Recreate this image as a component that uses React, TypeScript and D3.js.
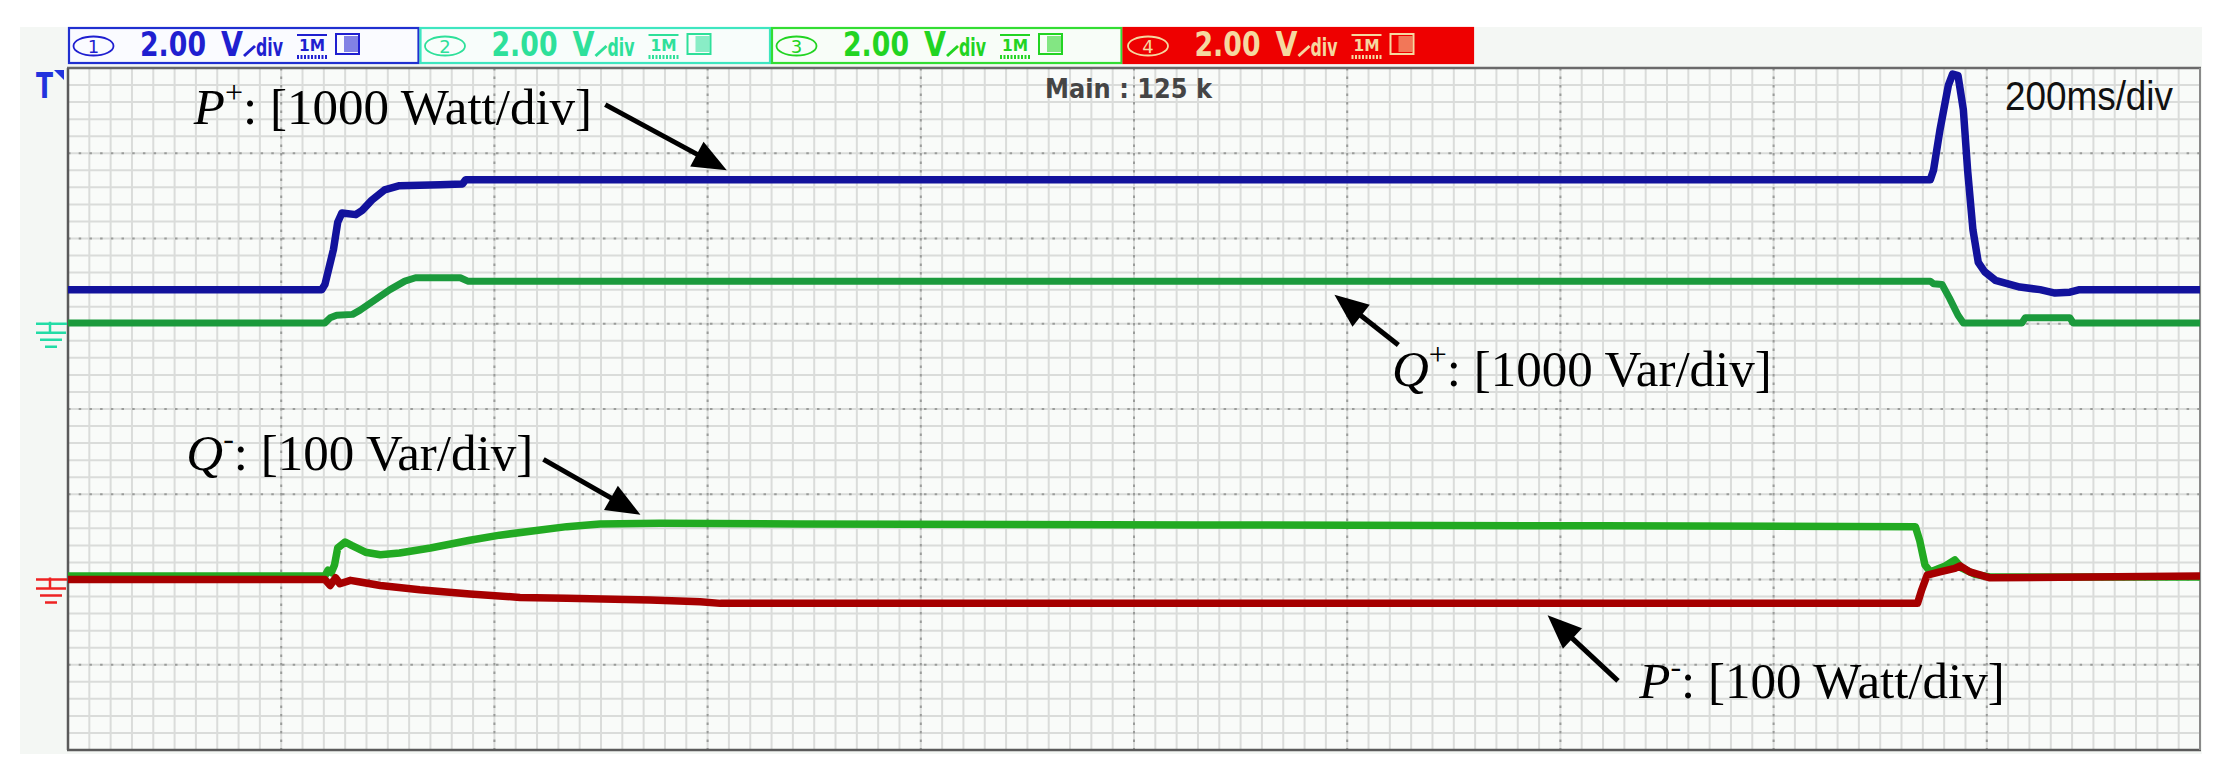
import React from 'react';
import * as d3 from 'd3';

const W = 2226;
const H = 775;

// time in ms (200 ms/div, 10 div), value in screen divisions (-4..4)
const pPlus: [number, number][] = [
  [0, 1.4], [238, 1.4], [241, 1.46], [249, 1.87], [253, 2.19], [257, 2.3], [270, 2.28], [276, 2.33],
  [285, 2.45], [297, 2.57], [311, 2.62], [349, 2.63], [370, 2.64], [373, 2.69], [1747, 2.69],
  [1750, 2.8], [1756, 3.27], [1764, 3.8], [1768, 3.93], [1773, 3.91], [1778, 3.51], [1782, 2.8],
  [1787, 2.1], [1792, 1.72], [1798, 1.61], [1808, 1.51], [1831, 1.43], [1850, 1.4], [1864, 1.36],
  [1878, 1.37], [1887, 1.4], [2000, 1.4],
];
const qPlus: [number, number][] = [
  [0, 1.01], [241, 1.01], [246, 1.07], [252, 1.1], [267, 1.11], [274, 1.16], [288, 1.28], [302, 1.4],
  [316, 1.5], [326, 1.54], [368, 1.54], [375, 1.5], [1747, 1.5], [1750, 1.47], [1758, 1.46],
  [1765, 1.3], [1773, 1.1], [1778, 1.01], [1833, 1.01], [1836, 1.07], [1878, 1.07], [1881, 1.01],
  [2000, 1.01],
];
const qMinus: [number, number][] = [
  [0, -1.96], [241, -1.96], [244, -1.89], [247, -1.92], [250, -1.83], [253, -1.63], [260, -1.56],
  [266, -1.6], [279, -1.68], [293, -1.71], [311, -1.69], [340, -1.63], [377, -1.54], [405, -1.48],
  [443, -1.42], [468, -1.38], [499, -1.35], [555, -1.34], [687, -1.35], [1062, -1.36], [1437, -1.37],
  [1733, -1.38], [1737, -1.54], [1742, -1.83], [1747, -1.91], [1751, -1.89], [1761, -1.84],
  [1770, -1.77], [1777, -1.87], [1789, -1.94], [1803, -1.97], [2000, -1.97],
];
const pMinus: [number, number][] = [
  [0, -2.0], [241, -2.0], [246, -2.07], [251, -1.98], [255, -2.05], [265, -2.01], [274, -2.03],
  [293, -2.07], [330, -2.12], [377, -2.17], [424, -2.21], [468, -2.22], [546, -2.24], [593, -2.26],
  [612, -2.28], [1735, -2.28], [1739, -2.12], [1744, -1.95], [1756, -1.91], [1770, -1.87],
  [1775, -1.84], [1784, -1.91], [1803, -1.98], [2000, -1.96],
];

const channelNumbers = ['1', '2', '3', '4'];
const channelScale = '2.00';
const channelUnit = 'V';
const channelDiv = 'div';
const mainLabel = 'Main : 125 k';
const timebaseLabel = '200ms/div';

const groundLevels = [
  { level: 1.0, color: '#22dca6' },
  { level: -2.0, color: '#ee2222' },
];

const labels = [
  { sym: 'P', sup: '+', rest: ': [1000 Watt/div]', t: 118, v: 3.34, tail: [504, 3.57], tip: [618, 2.8] },
  { sym: 'Q', sup: '+', rest: ': [1000 Var/div]', t: 1242, v: 0.27, tail: [1248, 0.75], tip: [1188, 1.34] },
  { sym: 'Q', sup: '-', rest: ': [100 Var/div]', t: 111, v: -0.72, tail: [446, -0.59], tip: [537, -1.24] },
  { sym: 'P', sup: '-', rest: ': [100 Watt/div]', t: 1474, v: -3.39, tail: [1454, -3.19], tip: [1388, -2.42] },
];

const X0 = 68, X1 = 2200, Y0 = 68, Y1 = 750;
const xS = d3.scaleLinear().domain([0, 2000]).range([X0, X1]);
const yS = d3.scaleLinear().domain([4, -4]).range([Y0, Y1]);

const lineGen = d3.line<[number, number]>().x(d => xS(d[0])).y(d => yS(d[1]));

const traces = [
  { data: qPlus, color: '#1b9a3c', w: 7 },
  { data: pPlus, color: '#12129c', w: 7.5 },
  { data: qMinus, color: '#22aa22', w: 7.5 },
  { data: pMinus, color: '#a60000', w: 7.5 },
];

const chStyles = [
  { stroke: '#2030d0', fill: '#fafbff', text: '#1f1fd0' },
  { stroke: '#3ee6c0', fill: '#f8fdfb', text: '#2ee09a' },
  { stroke: '#33dd33', fill: '#f8fdf8', text: '#22d422' },
  { stroke: '#ee0000', fill: '#ee0000', text: '#f5d8a0' },
];

function Arrow({ tail, tip }: { tail: number[]; tip: number[] }) {
  const x1 = xS(tail[0]), y1 = yS(tail[1]), x2 = xS(tip[0]), y2 = yS(tip[1]);
  const dx = x2 - x1, dy = y2 - y1;
  const len = Math.hypot(dx, dy);
  const ux = dx / len, uy = dy / len;
  const hl = 34, hw = 14;
  const bx = x2 - ux * hl, by = y2 - uy * hl;
  const pts = [
    [x2, y2],
    [bx - uy * hw, by + ux * hw],
    [bx + uy * hw, by - ux * hw],
  ];
  return (
    <g>
      <line x1={x1} y1={y1} x2={bx + ux * 2} y2={by + uy * 2} stroke="#000" strokeWidth={5} />
      <polygon points={pts.map(p => p.join(',')).join(' ')} fill="#000" />
    </g>
  );
}

function HeaderBox({ i }: { i: number }) {
  const bw = 351.5;
  const x0 = X0 + i * bw;
  const s = chStyles[i];
  return (
    <g>
      <rect x={x0 + 1} y={28} width={bw - 2} height={35} fill={s.fill} stroke={s.stroke} strokeWidth={2.2} />
      <ellipse cx={x0 + 25.5} cy={46} rx={20} ry={9.5} fill="none" stroke={s.text} strokeWidth={1.8} />
      <text x={x0 + 25.5} y={52.5} fontSize={18} fontFamily="DejaVu Sans" textAnchor="middle" fill={s.text}>
        {channelNumbers[i]}
      </text>
      <text x={x0 + 72} y={56} fontSize={33} fontWeight="bold" fontFamily="DejaVu Sans" fill={s.text} textLength={66} lengthAdjust="spacingAndGlyphs">
        {channelScale}
      </text>
      <text x={x0 + 153} y={56} fontSize={33} fontWeight="bold" fontFamily="DejaVu Sans" fill={s.text} textLength={22} lengthAdjust="spacingAndGlyphs">
        {channelUnit}
      </text>
      <line x1={x0 + 176} y1={56} x2={x0 + 187} y2={46} stroke={s.text} strokeWidth={3} />
      <text x={x0 + 188} y={56} fontSize={24} fontWeight="bold" fontFamily="DejaVu Sans" fill={s.text} textLength={27} lengthAdjust="spacingAndGlyphs">
        {channelDiv}
      </text>
      <line x1={x0 + 229} y1={35} x2={x0 + 259} y2={35} stroke={s.text} strokeWidth={2} />
      <text x={x0 + 231} y={51} fontSize={16} fontWeight="bold" fontFamily="DejaVu Sans" fill={s.text} textLength={26} lengthAdjust="spacingAndGlyphs">
        1M
      </text>
      <line x1={x0 + 229} y1={57} x2={x0 + 259} y2={57} stroke={s.text} strokeWidth={4} strokeDasharray="2 1.5" />
      <rect x={x0 + 268} y={34} width={23} height={20} fill="none" stroke={s.text} strokeWidth={2} />
      <rect x={x0 + 276} y={36} width={14} height={16} fill={s.text} opacity={0.55} />
    </g>
  );
}

export default function App() {
  const minorX = d3.range(0, 2000.01, 20);
  const majorX = d3.range(0, 2000.01, 200);
  const minorY = d3.range(-4, 4.001, 0.2);
  const majorY = d3.range(-4, 4.001, 1);

  return (
    <svg width={W} height={H} style={{ position: 'absolute', left: 0, top: 0, background: '#fff' }}>
      <rect x={0} y={0} width={W} height={H} fill="#fff" />
      <rect x={20} y={27} width={2182} height={727} fill="#f4f7f4" />
      <rect x={X0} y={Y0} width={X1 - X0} height={Y1 - Y0} fill="#f9fbf9" />
      <defs>
        <clipPath id="plotclip">
          <rect x={X0} y={Y0} width={X1 - X0} height={Y1 - Y0} />
        </clipPath>
      </defs>
      <g>
        {minorX.map((t, k) => (
          <line key={'mx' + k} x1={xS(t)} x2={xS(t)} y1={Y0} y2={Y1} stroke="#dadcda" strokeWidth={2} />
        ))}
        {minorY.map((v, k) => (
          <line key={'my' + k} x1={X0} x2={X1} y1={yS(v)} y2={yS(v)} stroke="#dadcda" strokeWidth={2} />
        ))}
        {majorX.map((t, k) => (
          <line key={'Mx' + k} x1={xS(t)} x2={xS(t)} y1={Y0} y2={Y1} stroke="#9a9c9a" strokeWidth={2} strokeDasharray="2.5 6" />
        ))}
        {majorY.map((v, k) => (
          <line key={'My' + k} x1={X0} x2={X1} y1={yS(v)} y2={yS(v)} stroke="#9a9c9a" strokeWidth={2} strokeDasharray="2.5 8.2" />
        ))}
      </g>
      <line x1={X0 - 1} x2={X1 + 1} y1={Y0} y2={Y0} stroke="#6a6a6a" strokeWidth={2.5} />
      <line x1={X0 - 1} x2={X1 + 1} y1={Y1} y2={Y1} stroke="#5a5a5a" strokeWidth={2.5} />
      <line x1={X0} x2={X0} y1={Y0} y2={Y1} stroke="#5a5a5a" strokeWidth={2.5} />
      <line x1={X1} x2={X1} y1={Y0} y2={Y1} stroke="#8a8a8a" strokeWidth={2} />

      {channelNumbers.map((_, i) => <HeaderBox key={i} i={i} />)}

      <text x={36} y={98} fontSize={36} fontWeight="bold" fontFamily="DejaVu Sans" fill="#2233dd" textLength={17} lengthAdjust="spacingAndGlyphs">T</text>
      <polygon points="54,70 64,70 64,80" fill="#2233dd" />

      {groundLevels.map((g, k) => {
        const y = yS(g.level);
        return (
          <g key={'g' + k} stroke={g.color} strokeWidth={2.5}>
            <line x1={36} x2={67} y1={y} y2={y} />
            <line x1={50} x2={50} y1={y - 2} y2={y + 9} />
            <line x1={36} x2={66} y1={y + 9} y2={y + 9} />
            <line x1={40} x2={62} y1={y + 16} y2={y + 16} />
            <line x1={45} x2={57} y1={y + 23} y2={y + 23} />
          </g>
        );
      })}

      <text x={1045} y={98} fontSize={27} fontWeight="bold" fontFamily="DejaVu Sans" fill="#454545" textLength={167} lengthAdjust="spacingAndGlyphs" xmlSpace="preserve">
        {mainLabel}
      </text>
      <text x={2005} y={110} fontSize={41} fontFamily="Liberation Sans" fill="#111" textLength={168} lengthAdjust="spacingAndGlyphs">
        {timebaseLabel}
      </text>

      <g clipPath="url(#plotclip)">
        {traces.map((tr, k) => (
          <path key={'t' + k} d={lineGen(tr.data) || ''} fill="none" stroke={tr.color} strokeWidth={tr.w} strokeLinejoin="round" strokeLinecap="round" />
        ))}
      </g>

      {labels.map((l, k) => (
        <g key={'l' + k}>
          <text x={xS(l.t)} y={yS(l.v)} fontSize={51} fontFamily="Liberation Serif" fill="#000">
            <tspan fontStyle="italic">{l.sym}</tspan>
            <tspan fontSize={32} dy={-21}>{l.sup}</tspan>
            <tspan dy={21}>{l.rest}</tspan>
          </text>
          <Arrow tail={l.tail} tip={l.tip} />
        </g>
      ))}
    </svg>
  );
}
